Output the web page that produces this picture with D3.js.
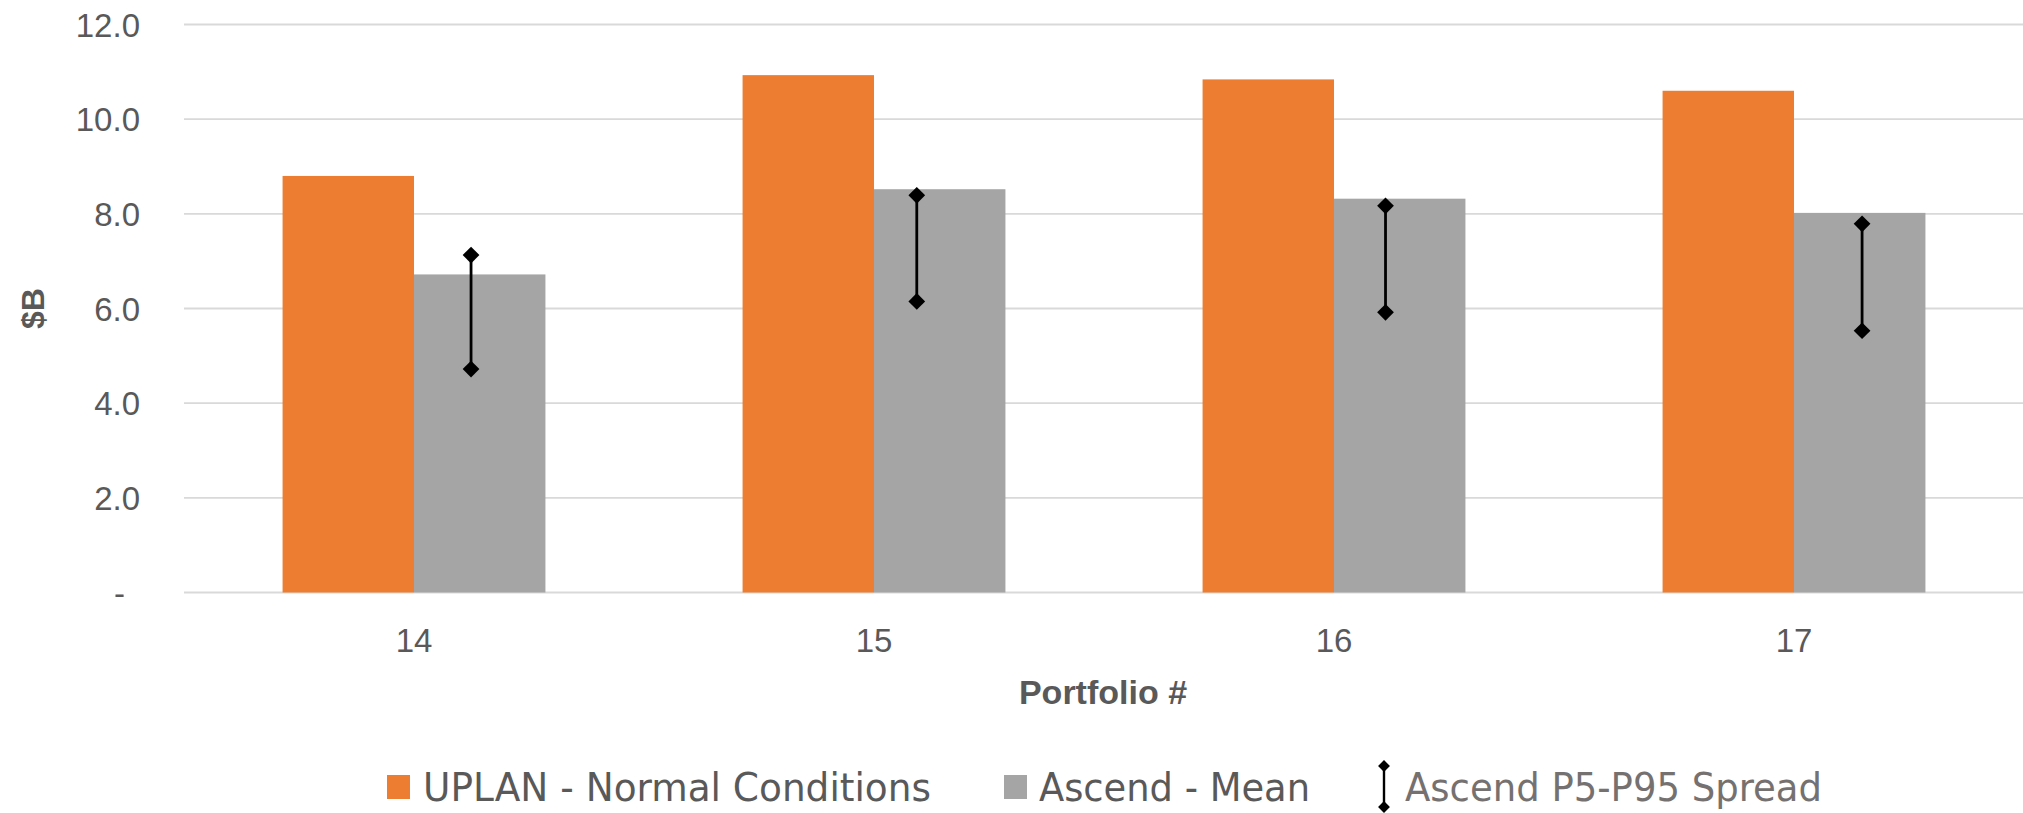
<!DOCTYPE html>
<html>
<head>
<meta charset="utf-8">
<script src="https://cdn.jsdelivr.net/npm/d3@7"></script>
<style>
  html, body { margin: 0; padding: 0; background: #fff; }
  svg { display: block; }
</style>
</head>
<body>
<svg id="chart" width="2023" height="813"></svg>
<script>
// ---- data ----
const categories = ["14", "15", "16", "17"];
const uplanNormal = [8.80, 10.93, 10.84, 10.60];
const ascendMean = [6.72, 8.52, 8.32, 8.02];
const ascendP95 = [7.13, 8.39, 8.17, 7.79];
const ascendP5 = [4.72, 6.15, 5.92, 5.53];
// spread series plotted on a secondary x axis (category units, 0..4)
const spreadX = [0.624, 1.593, 2.612, 3.648];
const yTicks = [0, 2, 4, 6, 8, 10, 12];
const seriesNames = ["UPLAN - Normal Conditions", "Ascend - Mean", "Ascend P5-P95 Spread"];

// ---- layout ----
const W = 2023, H = 813;
const plot = { left: 184, right: 2024, top: 24.5, bottom: 592.5 };
const colOrange = "#ED7D31", colGray = "#A5A5A5", textCol = "#595959";
const svg = d3.select("#chart");

const x = d3.scaleBand().domain(categories).range([plot.left, plot.right])
  .paddingInner(3 / 7).paddingOuter(1.5 / 7);
const xs = d3.scaleBand().domain(["uplan", "mean"]).range([0, x.bandwidth()]).padding(0);
const x2 = d3.scaleLinear().domain([0, 4]).range([plot.left, plot.right]);
const y = d3.scaleLinear().domain([0, 12]).range([plot.bottom, plot.top]);

// gridlines
svg.append("g").selectAll("line").data(yTicks).join("line")
  .attr("x1", plot.left).attr("x2", W)
  .attr("y1", d => y(d)).attr("y2", d => y(d))
  .attr("stroke", "#D9D9D9").attr("stroke-width", 1.8);

// y axis labels
const yAxis = svg.append("g").attr("transform", `translate(${plot.left},0)`)
  .call(d3.axisLeft(y).tickValues(yTicks).tickSize(0).tickPadding(44)
    .tickFormat(d => d === 0 ? "-" : d.toFixed(1)));
yAxis.select(".domain").remove();
yAxis.selectAll("text")
  .attr("font-family", "'Liberation Sans', Arial, sans-serif")
  .attr("font-size", 33).attr("fill", textCol)
  .attr("dy", "0.35em")
  .attr("dx", d => d === 0 ? -15 : 0);

// bars
const groups = svg.append("g").selectAll("g").data(categories).join("g")
  .attr("transform", d => `translate(${x(d)},0)`);
groups.append("rect")
  .attr("x", xs("uplan")).attr("width", xs.bandwidth())
  .attr("y", (d, i) => y(uplanNormal[i])).attr("height", (d, i) => y(0) - y(uplanNormal[i]))
  .attr("fill", colOrange);
groups.append("rect")
  .attr("x", xs("mean")).attr("width", xs.bandwidth())
  .attr("y", (d, i) => y(ascendMean[i])).attr("height", (d, i) => y(0) - y(ascendMean[i]))
  .attr("fill", colGray);

// error spread
const diamond = d3.symbol().type(d3.symbolSquare).size(140);
const spread = svg.append("g").selectAll("g").data(categories).join("g");
spread.append("line")
  .attr("x1", (d, i) => x2(spreadX[i])).attr("x2", (d, i) => x2(spreadX[i]))
  .attr("y1", (d, i) => y(ascendP95[i])).attr("y2", (d, i) => y(ascendP5[i]))
  .attr("stroke", "#000").attr("stroke-width", 2.8);
spread.append("path").attr("d", diamond)
  .attr("transform", (d, i) => `translate(${x2(spreadX[i])},${y(ascendP95[i])}) rotate(45)`)
  .attr("fill", "#000");
spread.append("path").attr("d", diamond)
  .attr("transform", (d, i) => `translate(${x2(spreadX[i])},${y(ascendP5[i])}) rotate(45)`)
  .attr("fill", "#000");

// x axis labels
const xAxis = svg.append("g").attr("transform", `translate(0,${plot.bottom})`)
  .call(d3.axisBottom(x).tickSize(0).tickPadding(0));
xAxis.select(".domain").remove();
xAxis.selectAll("text")
  .attr("font-family", "'Liberation Sans', Arial, sans-serif")
  .attr("font-size", 33).attr("fill", textCol)
  .attr("y", 59).attr("dy", 0);

// axis titles
svg.append("text")
  .attr("transform", `translate(44,${(plot.top + plot.bottom) / 2}) rotate(-90)`)
  .attr("text-anchor", "middle")
  .attr("font-family", "'Liberation Sans', Arial, sans-serif")
  .attr("font-weight", "bold").attr("font-size", 32).attr("fill", textCol)
  .text("$B");
svg.append("text")
  .attr("x", (plot.left + plot.right) / 2 - 1).attr("y", 704)
  .attr("text-anchor", "middle")
  .attr("font-family", "'Liberation Sans', Arial, sans-serif")
  .attr("font-weight", "bold").attr("font-size", 34).attr("fill", textCol)
  .text("Portfolio #");

// legend
const legFont = "'Liberation Sans Narrow', 'DejaVu Sans Condensed', 'Liberation Sans', sans-serif";
const leg = svg.append("g");
const legItems = [
  { name: seriesNames[0], sw: 387, tx: 423, tl: 508, color: colOrange, type: "rect", tc: textCol },
  { name: seriesNames[1], sw: 1004, tx: 1039, tl: 271, color: colGray, type: "rect", tc: textCol },
  { name: seriesNames[2], sw: 1384, tx: 1405, tl: 417, color: "#000", type: "err", tc: "#757171" }
];
legItems.forEach(it => {
  if (it.type === "rect") {
    leg.append("rect").attr("x", it.sw).attr("y", 775).attr("width", 23).attr("height", 24).attr("fill", it.color);
  } else {
    leg.append("line").attr("x1", it.sw).attr("x2", it.sw).attr("y1", 766).attr("y2", 807)
      .attr("stroke", "#000").attr("stroke-width", 2.4);
    const small = d3.symbol().type(d3.symbolSquare).size(70);
    [766, 807].forEach(yy => leg.append("path").attr("d", small)
      .attr("transform", `translate(${it.sw},${yy}) rotate(45)`).attr("fill", "#000"));
  }
  leg.append("text").attr("x", it.tx).attr("y", 801)
    .attr("font-family", legFont).attr("font-size", 39).attr("fill", it.tc)
    .attr("textLength", it.tl).attr("lengthAdjust", "spacingAndGlyphs")
    .text(it.name);
});
</script>
</body>
</html>
